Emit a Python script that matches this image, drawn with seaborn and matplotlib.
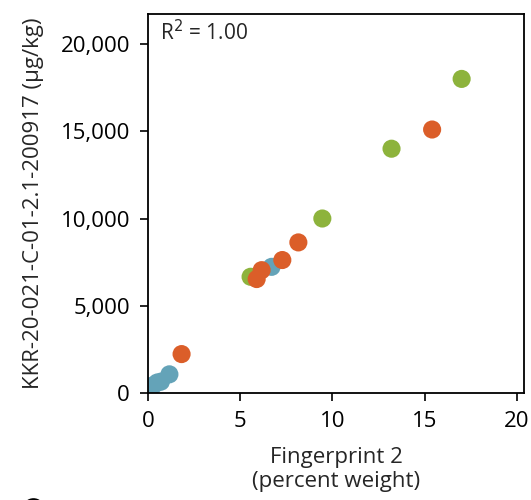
import matplotlib
matplotlib.use("Agg")
import matplotlib.pyplot as plt
import seaborn as sns
import pandas as pd
from matplotlib.lines import Line2D
from matplotlib.ticker import FuncFormatter

# Data
groups = ["purple", "blue", "blue", "blue", "blue", "blue",
          "orange", "green", "orange", "orange", "orange", "orange",
          "green", "orange", "green", "green"]
fingerprint2 = [0.10, 0.30, 0.50, 0.70, 1.16, 6.70,
                1.82, 5.56, 5.89, 6.16, 7.28, 8.15,
                9.45, 15.40, 13.20, 17.00]
concentration = [360, 450, 600, 650, 1070, 7230,
                 2230, 6660, 6530, 7040, 7620, 8630,
                 10000, 15100, 14000, 18000]
palette = {"purple": "#574C9E", "blue": "#64A3B8",
           "orange": "#DB5E29", "green": "#8DB33C"}
x_ticks = [0, 5, 10, 15, 20]
y_ticks = [0, 5000, 10000, 15000, 20000]

df = pd.DataFrame({"group": groups, "x": fingerprint2, "y": concentration})

sns.set_style("ticks")
plt.rcParams["font.family"] = ["Open Sans", "DejaVu Sans"]

fig = plt.figure(figsize=(5.31, 5.0), dpi=100)
ax = fig.add_axes([148 / 531, 1 - 393 / 500, (524 - 148) / 531, (393 - 14) / 500])

sns.scatterplot(data=df, x="x", y="y", hue="group", palette=palette,
                s=170, linewidth=0, alpha=1, legend=False, ax=ax, zorder=3)

ax.set_xlim(0, 20.38)
ax.set_ylim(0, 21720)
ax.set_xticks(x_ticks)
ax.set_yticks(y_ticks)
ax.yaxis.set_major_formatter(FuncFormatter(lambda v, p: f"{int(v):,}"))
ax.tick_params(axis="both", labelsize=16, length=6, width=1.2, pad=7,
               direction="out", color="black", labelcolor="black")
for sp in ax.spines.values():
    sp.set_visible(True)
    sp.set_linewidth(1.3)
    sp.set_color("black")
    sp.set_zorder(4)

ax.set_xlabel("Fingerprint 2\n(percent weight)", fontsize=16, linespacing=1.18,
              labelpad=11)
ax.set_ylabel("KKR-20-021-C-01-2.1-200917 (\u03bcg/kg)", fontsize=16,
              labelpad=12)
ax.text(0.033, 0.985, "R$^2$ = 1.00", transform=ax.transAxes,
        ha="left", va="top", fontsize=15)

# partially visible marker at the lower-left edge of the figure
fig.add_artist(Line2D([33 / 531], [1 - 509 / 500], marker="o", markersize=15,
                      markerfacecolor="none", markeredgecolor="black",
                      markeredgewidth=1.3, transform=fig.transFigure,
                      clip_on=False))

fig.savefig("out.png", dpi=100)
